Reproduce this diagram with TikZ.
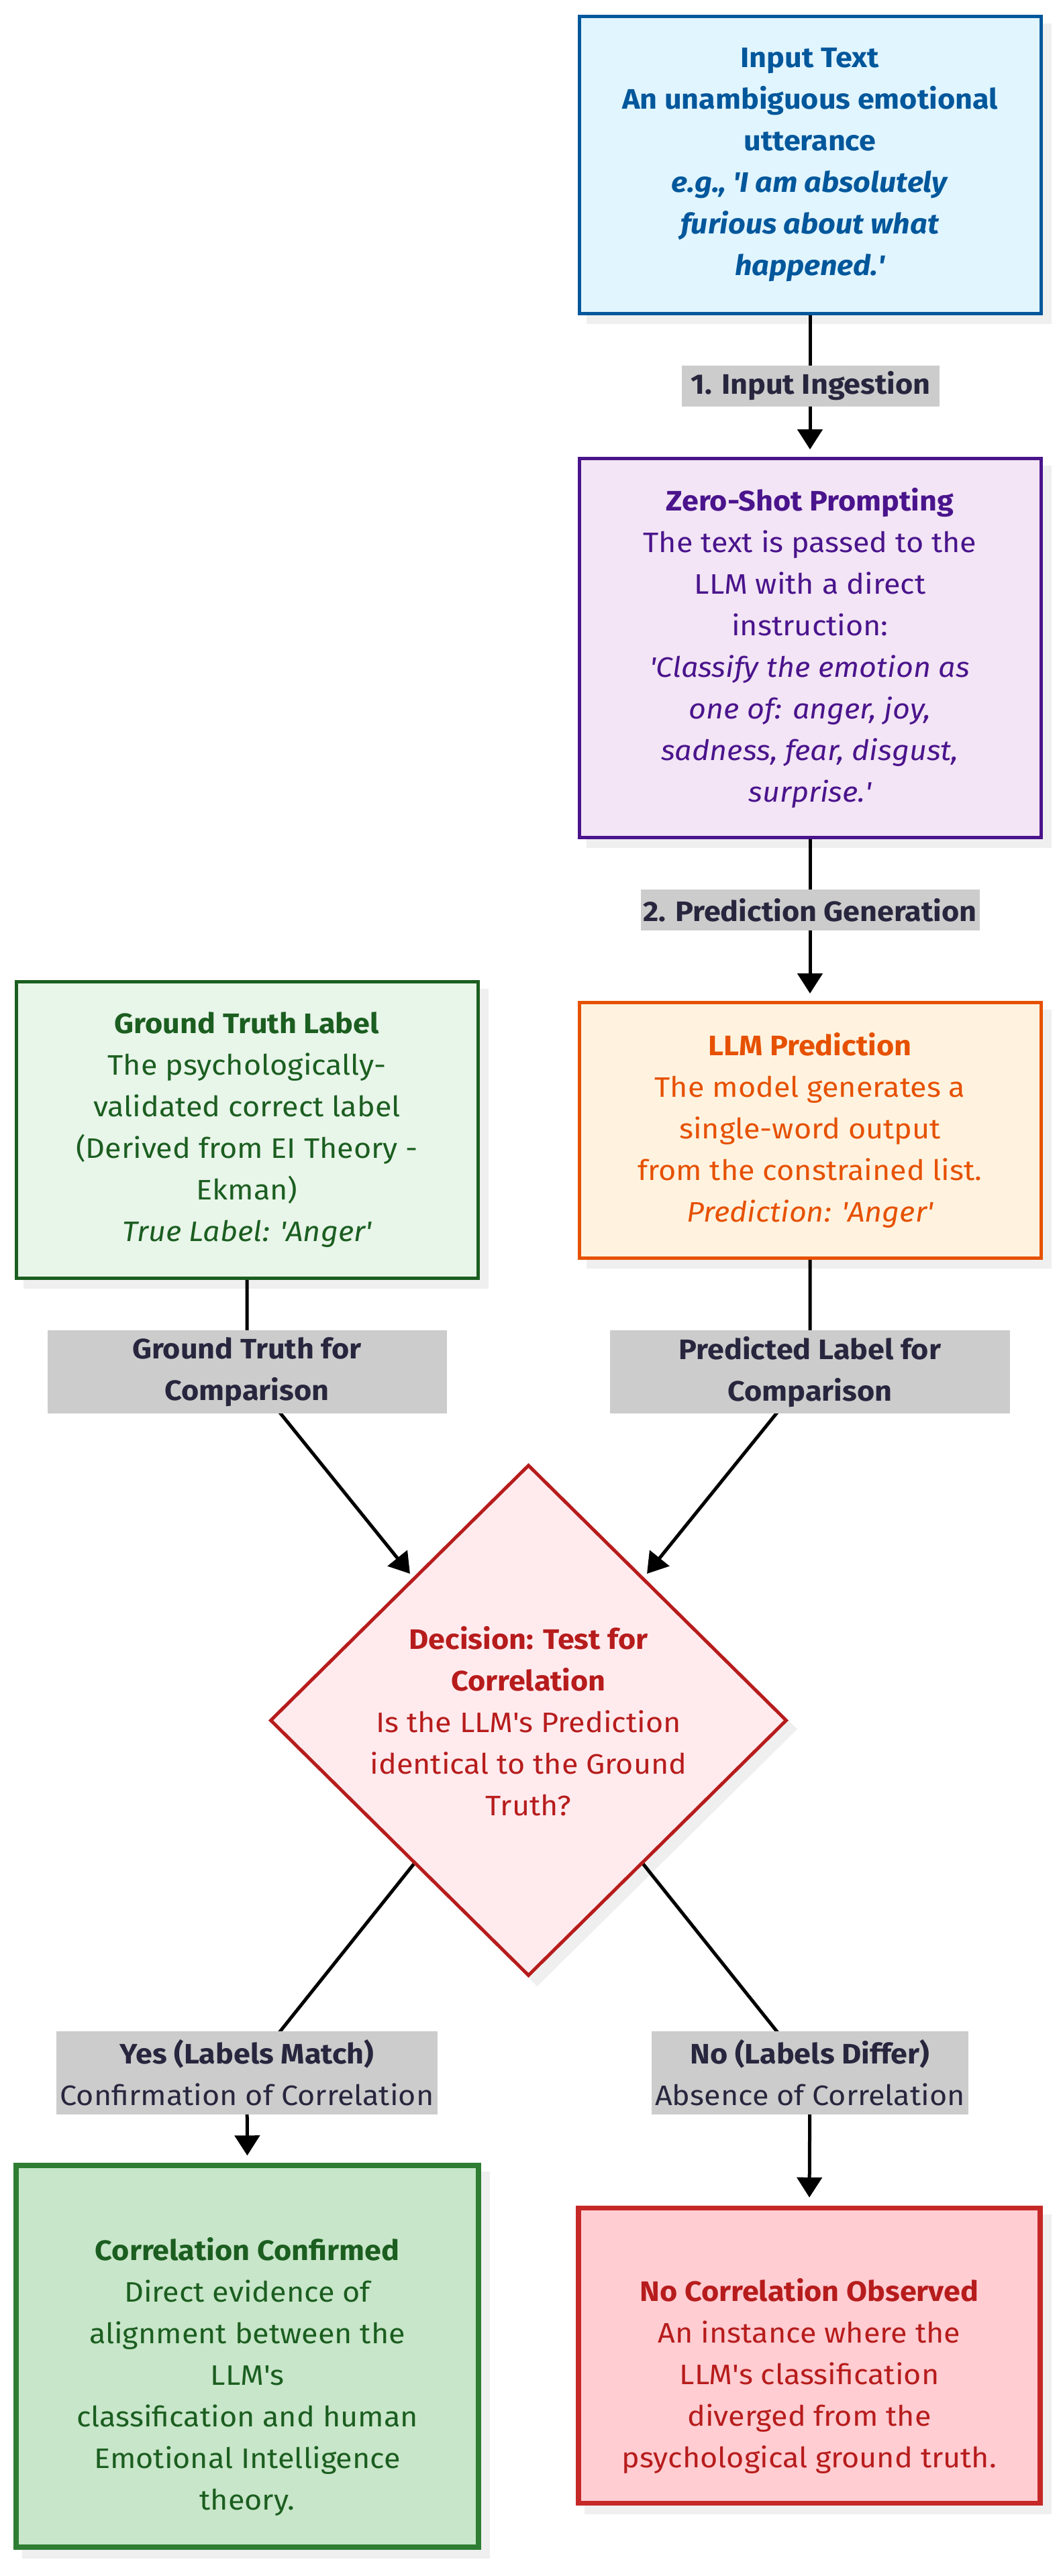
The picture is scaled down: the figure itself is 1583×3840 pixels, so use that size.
\documentclass[tikz,border=0pt]{standalone}
\usepackage{fontspec}
\setmainfont{Fira Sans}[FakeStretch=1.07]
\usetikzlibrary{shapes.geometric,arrows.meta,calc}
\pgfdeclarelayer{bg}
\pgfsetlayers{bg,main}
\definecolor{inpF}{HTML}{E1F5FE}\definecolor{inpD}{HTML}{01579B}
\definecolor{zsF}{HTML}{F3E5F5}\definecolor{zsD}{HTML}{4A148C}
\definecolor{llmF}{HTML}{FFF3E0}\definecolor{llmD}{HTML}{E65100}
\definecolor{gtF}{HTML}{E8F5E9}\definecolor{gtD}{HTML}{1B5E20}
\definecolor{decF}{HTML}{FFEBEE}\definecolor{decD}{HTML}{B71C1C}
\definecolor{ccF}{HTML}{C8E6C9}\definecolor{ccD}{HTML}{2E7D32}\definecolor{ccT}{HTML}{1B5E20}
\definecolor{ncF}{HTML}{FFCDD2}\definecolor{ncD}{HTML}{C62828}\definecolor{ncT}{HTML}{B71C1C}
\definecolor{labF}{RGB}{204,204,204}\definecolor{labT}{RGB}{40,38,62}
\definecolor{shadowc}{RGB}{239,239,239}
\newcommand{\myq}{\textquotesingle}
\newcommand{\myfs}{\fontsize{42}{62}\selectfont}
\begin{document}
\begin{tikzpicture}[x=1pt,y=-1pt,
  box/.style={rectangle, draw, line width=5pt, align=center, inner sep=0pt, font=\myfs},
  txt/.style={align=center, inner sep=0pt, font=\myfs},
  elab/.style={fill=labF, text=labT, inner sep=0pt, align=center, font=\myfs},
  conn/.style={line width=5pt, draw=black},
  arr/.style={conn, -{Triangle[width=37pt,length=30pt]}},
]
\useasboundingbox (0,0) rectangle (1583,3840);

\node[box, fill=inpF, draw=inpD, text=inpD, minimum width=688, minimum height=443] (inp) at (1207,246)
  {\textbf{Input Text}\\ \textbf{An unambiguous emotional}\\ \textbf{utterance}\\
   \textbf{\textit{e.g., \myq I am absolutely}}\\ \textbf{\textit{furious about what}}\\ \textbf{\textit{happened.\myq}}};

\node[box, fill=zsF, draw=zsD, text=zsD, minimum width=688, minimum height=565] (zs) at (1207,966)
  {\textbf{Zero-Shot Prompting}\\ The text is passed to the\\ LLM with a direct\\ instruction:\\
   \textit{\myq Classify the emotion as}\\ \textit{one of: anger, joy,}\\ \textit{sadness, fear, disgust,}\\ \textit{surprise.\myq}};

\node[box, fill=llmF, draw=llmD, text=llmD, minimum width=688, minimum height=381] (llm) at (1207,1685)
  {\textbf{LLM Prediction}\\ The model generates a\\ single-word output\\ from the constrained list.\\ \textit{Prediction: \myq Anger\myq}};

\node[box, fill=gtF, draw=gtD, text=gtD, minimum width=688, minimum height=442] (gt) at (368,1684.5)
  {\textbf{Ground Truth Label}\\ The psychologically-\\ validated correct label\\ (Derived from EI Theory -\\ Ekman)\\ \textit{True Label: \myq Anger\myq}};

\node[diamond, draw=decD, fill=decF, line width=5pt, aspect=1, inner sep=0pt, minimum width=770, minimum height=762] (dec) at (787.5,2564.5) {};
\node[txt, text=decD] (dect) at (787.5,2566)
  {\textbf{Decision: Test for}\\ \textbf{Correlation}\\ Is the LLM\myq s Prediction\\ identical to the Ground\\ Truth?};

\node[box, line width=7.5pt, fill=ccF, draw=ccD, minimum width=689, minimum height=569] (cc) at (368.5,3512.5) {};
\node[txt, text=ccT] (cct) at (368.5,3543)
  {\textbf{Correlation Confirmed}\\ Direct evidence of\\ alignment between the\\ LLM\myq s\\ classification and human\\ Emotional Intelligence\\ theory.};

\node[box, line width=7.5pt, fill=ncF, draw=ncD, minimum width=688, minimum height=440] (nc) at (1206,3511.5) {};
\node[txt, text=ncT] (nct) at (1206,3542)
  {\textbf{No Correlation Observed}\\ An instance where the\\ LLM\myq s classification\\ diverged from the\\ psychological ground truth.};

\node[elab, minimum width=384, minimum height=61] (l1) at (1208,575.5) {\textbf{1. Input Ingestion}};
\node[elab, minimum width=505, minimum height=61] (l2) at (1207,1356.5) {\textbf{2. Prediction Generation}};
\node[elab, minimum width=595, minimum height=124] (l3) at (368,2045) {\textbf{Ground Truth for}\\ \textbf{Comparison}};
\node[elab, minimum width=596, minimum height=124] (l4) at (1207,2045) {\textbf{Predicted Label for}\\ \textbf{Comparison}};
\node[elab, minimum width=568, minimum height=124] (l5) at (368,3090) {\textbf{Yes (Labels Match)}\\ Confirmation of Correlation};
\node[elab, minimum width=472, minimum height=124] (l6) at (1207,3090) {\textbf{No (Labels Differ)}\\ Absence of Correlation};

\begin{pgfonlayer}{bg}
  \fill[white] (0,0) rectangle (1583,3840);
  \foreach \n in {inp,zs,llm,gt,cc,nc}
    \fill[shadowc] ($(\n.south west)+(13,13)$) rectangle ($(\n.north east)+(13,13)$);
  \fill[shadowc] ($(dec.north)+(13,13)$) -- ($(dec.east)+(13,13)$) -- ($(dec.south)+(13,13)$) -- ($(dec.west)+(13,13)$) -- cycle;
  \draw[arr, shorten >=11pt] (inp.south) -- (zs.north);
  \draw[arr, shorten >=11pt] (zs.south) -- (llm.north);
  \draw[arr, shorten >=7pt] (gt.south) -- (l3.center) -- (dec);
  \draw[arr, shorten >=7pt] (llm.south) -- (l4.center) -- (dec);
  \draw[arr, shorten >=11pt] (dec) -- (l5.center) -- (cc.north);
  \draw[arr, shorten >=12pt] (dec) -- (l6.center) -- (nc.north);
\end{pgfonlayer}
\end{tikzpicture}
\end{document}
